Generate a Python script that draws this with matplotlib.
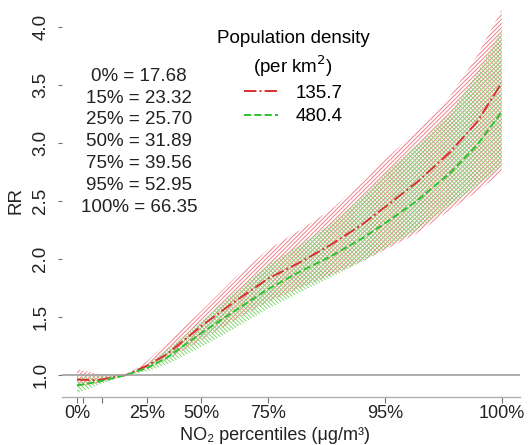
import matplotlib.pyplot as plt
import numpy as np

plt.rcParams['font.family'] = ['Liberation Sans', 'DejaVu Sans']
plt.rcParams['hatch.linewidth'] = 0.7

# NO2 percentiles (ug/m3)
pct_labels = ['0%', '15%', '25%', '50%', '75%', '95%', '100%']
pct_values = [17.68, 23.32, 25.70, 31.89, 39.56, 52.95, 66.35]
tick_labels = ['0%', '25%', '50%', '75%', '95%', '100%']
tick_values = [17.68, 25.70, 31.89, 39.56, 52.95, 66.35]
minor_ticks = [18.4, 20.5]

# curves
no2 = [17.68, 20.0, 23.32, 25.7, 28.0, 31.89, 35.5, 39.56, 43.2, 46.7, 50.4, 53.0, 56.6, 60.4, 63.5, 66.35]
rr_low = [0.96, 0.955, 1.0, 1.08, 1.18, 1.42, 1.62, 1.83, 1.97, 2.12, 2.30, 2.45, 2.66, 2.92, 3.18, 3.52]
rr_low_lo = [0.90, 0.93, 1.0, 1.05, 1.13, 1.30, 1.46, 1.63, 1.75, 1.86, 1.98, 2.08, 2.22, 2.42, 2.58, 2.75]
rr_low_hi = [1.05, 1.01, 1.0, 1.12, 1.28, 1.55, 1.82, 2.08, 2.25, 2.42, 2.66, 2.86, 3.10, 3.40, 3.75, 4.15]
rr_high = [0.91, 0.94, 1.0, 1.06, 1.15, 1.36, 1.54, 1.74, 1.89, 2.02, 2.18, 2.31, 2.50, 2.74, 2.98, 3.27]
rr_high_lo = [0.84, 0.91, 1.0, 1.03, 1.09, 1.24, 1.39, 1.57, 1.71, 1.84, 1.98, 2.09, 2.25, 2.46, 2.63, 2.80]
rr_high_hi = [0.98, 0.99, 1.0, 1.09, 1.22, 1.46, 1.70, 1.95, 2.12, 2.30, 2.54, 2.74, 2.98, 3.25, 3.60, 3.98]

fig = plt.figure(figsize=(5.3, 4.45), dpi=100)
ax = fig.add_axes([62 / 530, 48 / 445, 458 / 530, 394 / 445])

ax.fill_between(no2, rr_low_lo, rr_low_hi, facecolor='none', edgecolor='#f0808c',
                hatch='////////', linewidth=0)
ax.fill_between(no2, rr_high_lo, rr_high_hi, facecolor='none', edgecolor='#80d870',
                hatch='\\\\\\\\\\\\\\\\', linewidth=0)
ax.plot(no2, rr_low, color='#d83030', linestyle='-.', linewidth=1.4, label='135.7')
ax.plot(no2, rr_high, color='#2ec02e', linestyle='--', linewidth=1.4, label='480.4')

ax.axhline(1.0, color='#a0a0a0', linewidth=1.2)

ax.set_xlim(15.96, 68.43)
ax.set_ylim(0.81, 4.207)

for s in ['top', 'right', 'left']:
    ax.spines[s].set_visible(False)
ax.spines['bottom'].set_color('#b0b0b0')
ax.spines['bottom'].set_linewidth(1.0)

ax.set_xticks(tick_values)
ax.set_xticklabels(tick_labels)
ax.set_xticks(minor_ticks, minor=True)
ax.tick_params(axis='x', which='both', length=4, width=0.8, color='#707070',
               labelsize=13, pad=2, labelcolor='#222222')
ax.set_yticks([1.0, 1.5, 2.0, 2.5, 3.0, 3.5, 4.0])
ax.set_yticklabels(['1.0', '1.5', '2.0', '2.5', '3.0', '3.5', '4.0'], rotation=90, va='center')
ax.tick_params(axis='y', length=3, width=0.8, color='#707070', labelsize=13.5, pad=6,
               labelcolor='#222222')

ax.set_xlabel('NO\u2082 percentiles (\u03bcg/m\u00b3)', fontsize=13, color='#222222',
              va='bottom')
ax.xaxis.set_label_coords(0.465, -0.119)
ax.set_ylabel('RR', fontsize=13.5, labelpad=6, color='#222222')

for i, (lab, val) in enumerate(zip(pct_labels, pct_values)):
    ax.text(0.168, 0.814 - i * 0.0553, '%s = %.2f' % (lab, val), transform=ax.transAxes,
            ha='center', va='center', fontsize=13.5, color='#222222')

leg = ax.legend(title='Population density\n(per km$^2$)', loc='upper center',
                bbox_to_anchor=(0.505, 0.975), frameon=False, fontsize=13.5,
                title_fontsize=13.5, handlelength=1.8, handletextpad=0.95,
                labelspacing=0.35)
leg.get_title().set_multialignment('center')
leg.get_title().set_linespacing(1.35)
leg._legend_box.sep = 4

fig.savefig('out.png', dpi=100)
